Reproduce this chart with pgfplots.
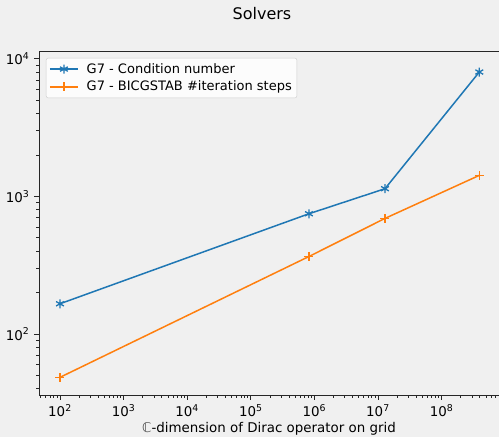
\documentclass[border=0pt]{standalone}
\usepackage{fontspec}
\setmainfont{DejaVu Sans}
\usepackage{pgfplots}
\pgfplotsset{compat=1.18}
\definecolor{bg}{RGB}{240,240,240}
\definecolor{mblue}{HTML}{1F77B4}
\definecolor{morange}{HTML}{FF7F0E}
\begin{document}
\fontsize{13.4}{16}\selectfont
\begin{tikzpicture}
\fill[bg] (-39pt,-42pt) rectangle (460pt,395pt);
\begin{axis}[
  at={(0pt,0pt)}, anchor=south west,
  scale only axis, width=460pt, height=343.6pt,
  xmode=log, ymode=log,
  xmin=46.8, xmax=8.0e8, ymin=36.1, ymax=11300,
  axis background/.style={fill=bg},
  axis line style={black!85, line width=0.8pt},
  tick align=outside, xtick pos=bottom, ytick pos=left,
  major tick length=5pt, minor tick length=3pt,
  every tick/.style={black!85, line width=0.8pt},
  xtick={1e2,1e3,1e4,1e5,1e6,1e7,1e8},
  xticklabels={10\textsuperscript{2},10\textsuperscript{3},10\textsuperscript{4},10\textsuperscript{5},10\textsuperscript{6},10\textsuperscript{7},10\textsuperscript{8}},
  minor xtick={50,60,70,80,90,
    200,300,400,500,600,700,800,900,
    2e3,3e3,4e3,5e3,6e3,7e3,8e3,9e3,
    2e4,3e4,4e4,5e4,6e4,7e4,8e4,9e4,
    2e5,3e5,4e5,5e5,6e5,7e5,8e5,9e5,
    2e6,3e6,4e6,5e6,6e6,7e6,8e6,9e6,
    2e7,3e7,4e7,5e7,6e7,7e7,8e7,9e7,
    2e8,3e8,4e8,5e8,6e8,7e8},
  ytick={1e2,1e3,1e4},
  yticklabels={10\textsuperscript{2},10\textsuperscript{3},10\textsuperscript{4}},
  minor ytick={40,50,60,70,80,90,
    200,300,400,500,600,700,800,900,
    2e3,3e3,4e3,5e3,6e3,7e3,8e3,9e3},
  ticklabel style={font=\fontsize{13.4}{16}\selectfont},
  xlabel={{\color{black!70}ℂ}-dimension of Dirac operator on grid},
  xlabel style={font=\fontsize{13.4}{16}\selectfont, at={(axis description cs:0.5,0)}, anchor=base, yshift=-38pt},
  legend style={at={(axis description cs:0.0152,0.981)}, anchor=north west,
    draw=black!20, fill=white, fill opacity=0.8, text opacity=1,
    rounded corners=2pt, font=\fontsize{13}{15.5}\selectfont,
    inner xsep=3pt, inner ysep=3pt, row sep=2pt},
  legend cell align=left,
  legend image code/.code={\draw[mark repeat=2,mark phase=2] plot coordinates {(0pt,0pt) (14pt,0pt) (28pt,0pt)};\path (34pt,0pt);},
]
\addplot[mblue, line width=1.5pt, mark=asterisk, mark size=4.5pt, mark options={line width=1.3pt}]
  coordinates {(100,166) (8.22e5,748) (1.29e7,1137) (3.92e8,8000)};
\addlegendentry{G7 - Condition number}
\addplot[morange, line width=1.5pt, mark=+, mark size=4.5pt, mark options={line width=1.3pt}]
  coordinates {(100,48.5) (8.22e5,366) (1.29e7,692) (3.92e8,1421)};
\addlegendentry{G7 - BICGSTAB \#iteration steps}
\end{axis}
\node[anchor=base, font=\fontsize{16}{19}\selectfont] at (223pt,375pt) {Solvers};
\pgfresetboundingbox
\useasboundingbox (-39pt,-42pt) rectangle (460pt,395pt);
\end{tikzpicture}
\end{document}
